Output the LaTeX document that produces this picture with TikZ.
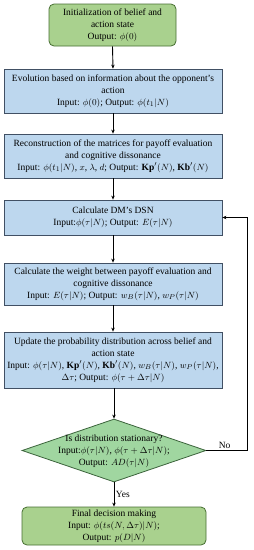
\documentclass[tikz,border=0pt]{standalone}
\usepackage{fontspec}
\setmainfont{Liberation Serif}
\usetikzlibrary{shapes.geometric,arrows.meta}
\definecolor{gfill}{RGB}{169,209,142}
\definecolor{gdraw}{RGB}{70,110,50}
\definecolor{bfill}{RGB}{189,215,238}
\definecolor{bdraw}{RGB}{65,80,100}
\definecolor{dfill}{RGB}{160,214,160}
\definecolor{ddraw}{RGB}{60,100,60}
\tikzset{
  every node/.style={font=\fontsize{9.5}{12}\selectfont},
  greenbox/.style={draw=gdraw, fill=gfill, line width=0.8pt, rounded corners=5pt, align=center, inner sep=0pt},
  bluebox/.style={draw=bdraw, fill=bfill, line width=0.8pt, align=center, inner sep=0pt, minimum width=218pt},
  decision/.style={draw=ddraw, fill=dfill, line width=0.8pt, shape=diamond, inner sep=0pt, minimum width=184pt, minimum height=63pt},
  conn/.style={-{Stealth[length=4pt,width=3.5pt]}, line width=0.9pt, black},
  lbl/.style={inner sep=1.5pt}
}
\begin{document}
\begin{tikzpicture}[x=1pt,y=-1pt]
\useasboundingbox (0,0) rectangle (254,550);
\node[greenbox, minimum width=127pt, minimum height=42pt] (b1) at (112.5,25) {Initialization of belief and\\action state\\Output: $\phi(0)$};
\node[bluebox, minimum height=44pt] (b2) at (113,91) {Evolution based on information about the opponent's\\action\\Input: $\phi(0)$; Output: $\phi(t_1|N)$};
\node[bluebox, minimum height=44pt] (b3) at (113,156) {Reconstruction of the matrices for payoff evaluation\\and cognitive dissonance\\Input: $\phi(t_1|N)$, $x$, $\lambda$, $d$; Output: $\mathbf{Kp}'(N)$, $\mathbf{Kb}'(N)$};
\node[bluebox, minimum height=35pt] (b4) at (113,217.5) {Calculate DM's DSN\\Input:$\phi(\tau|N)$; Output: $E(\tau|N)$};
\node[bluebox, minimum height=42pt] (b5) at (113,284) {Calculate the weight between payoff evaluation and\\cognitive dissonance\\Input: $E(\tau|N)$; Output: $w_B(\tau|N)$, $w_P(\tau|N)$};
\node[bluebox, minimum height=56pt] (b6) at (113,360) {Update the probability distribution across belief and\\action state\\Input: $\phi(\tau|N)$, $\mathbf{Kp}'(N)$, $\mathbf{Kb}'(N)$, $w_B(\tau|N)$, $w_P(\tau|N)$,\\$\Delta\tau$; Output: $\phi(\tau+\Delta\tau|N)$};
\node[decision] (d) at (114,450.5) {};
\node[align=center, inner sep=0pt] (dt) at (114,451) {Is distribution stationary?\\Input:$\phi(\tau|N)$, $\phi(\tau+\Delta\tau|N)$;\\Output: $AD(\tau|N)$};
\node[greenbox, minimum width=184pt, minimum height=38pt] (b7) at (114,526) {Final decision making\\Input: $\phi(ts(N,\Delta\tau)|N)$;\\Output: $p(D|N)$};
\coordinate (fb) at (247,450.5);
\draw[conn] (b1.south) -- (b2.north);
\draw[conn] (b2.south) -- (b3.north);
\draw[conn] (b3.south) -- (b4.north);
\draw[conn] (b4.south) -- (b5.north);
\draw[conn] (b5.south) -- (b6.north);
\draw[conn] (b6.south -| d.north) -- (d.north);
\draw[conn] (d.south) -- node[lbl, right] {Yes} (b7.north);
\draw[conn] (d.east) -- node[lbl, above, pos=0.45] {No} (fb) |- (b4.east);
\end{tikzpicture}
\end{document}
